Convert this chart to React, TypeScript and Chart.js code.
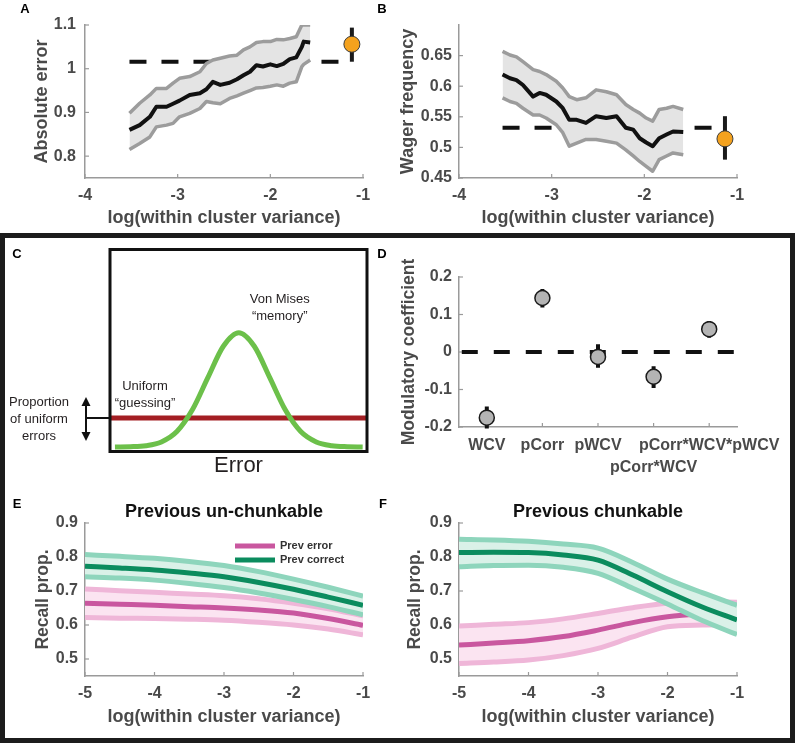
import React, { useEffect, useRef } from 'react';
import { Chart, registerables } from 'chart.js';

Chart.register(...registerables);

const FONT = "'Liberation Sans', Arial, Helvetica, sans-serif";
const TICK_COLOR = '#4a4a4a';
const AXIS_COLOR = '#9a9a9a';
const BAND_EDGE = '#9c9c9c';
const BAND_FILL = '#e4e4e4';
const ORANGE = '#f4a21e';
const PINK_MID = '#c9579f';
const PINK_EDGE = '#efb6d8';
const PINK_FILL = '#fbe4f1';
const GREEN_MID = '#0b8c5e';
const GREEN_EDGE = '#8ed5bc';
const GREEN_FILL = '#daf1e8';

// ---------- shared text ----------
const X_TITLE = 'log(within cluster variance)';
const PANEL_LABELS = ['A', 'B', 'C', 'D', 'E', 'F'];

// ---------- Panel A ----------
const A_Y_TITLE = 'Absolute error';
const A_X_TICKS = [-4, -3, -2, -1];
const A_Y_TICKS = [0.8, 0.9, 1, 1.1];
const A_X = [-3.52, -3.41, -3.30, -3.23, -3.12, -3.05, -2.98, -2.87, -2.76, -2.69, -2.62, -2.54, -2.44, -2.36, -2.29, -2.22, -2.15, -2.08, -2.00, -1.93, -1.86, -1.79, -1.72, -1.66, -1.64, -1.57];
const A_MEAN = [0.860, 0.871, 0.890, 0.913, 0.913, 0.920, 0.927, 0.940, 0.944, 0.953, 0.970, 0.963, 0.968, 0.976, 0.985, 0.993, 1.008, 1.005, 1.010, 1.006, 1.011, 1.022, 1.026, 1.050, 1.062, 1.060];
const A_UPPER = [0.898, 0.921, 0.940, 0.955, 0.955, 0.967, 0.978, 0.982, 0.993, 1.012, 1.020, 1.024, 1.029, 1.031, 1.043, 1.050, 1.060, 1.062, 1.062, 1.067, 1.066, 1.069, 1.073, 1.100, 1.100, 1.100];
const A_LOWER = [0.815, 0.829, 0.844, 0.867, 0.871, 0.875, 0.890, 0.898, 0.909, 0.925, 0.922, 0.920, 0.932, 0.938, 0.944, 0.950, 0.956, 0.957, 0.960, 0.963, 0.960, 0.967, 0.970, 1.005, 1.010, 1.020];
const A_BASE_X = [-3.52, -1.25];
const A_BASE_Y = 1.016;
const A_SINGLE_X = -1.12;
const A_SINGLE_Y = 1.056;
const A_SINGLE_ERR = [1.016, 1.094];

// ---------- Panel B ----------
const B_Y_TITLE = 'Wager frequency';
const B_X_TICKS = [-4, -3, -2, -1];
const B_Y_TICKS = [0.45, 0.5, 0.55, 0.6, 0.65];
const B_X = [-3.53, -3.45, -3.38, -3.31, -3.20, -3.13, -3.06, -2.95, -2.88, -2.81, -2.73, -2.63, -2.52, -2.41, -2.30, -2.20, -2.12, -2.05, -1.98, -1.91, -1.84, -1.76, -1.69, -1.58];
const B_MEAN = [0.619, 0.613, 0.610, 0.602, 0.583, 0.589, 0.586, 0.575, 0.564, 0.545, 0.545, 0.540, 0.551, 0.548, 0.551, 0.532, 0.529, 0.515, 0.508, 0.502, 0.515, 0.521, 0.526, 0.525];
const B_UPPER = [0.657, 0.651, 0.648, 0.640, 0.627, 0.624, 0.619, 0.608, 0.597, 0.583, 0.578, 0.581, 0.594, 0.591, 0.586, 0.570, 0.562, 0.556, 0.548, 0.543, 0.562, 0.564, 0.567, 0.562];
const B_LOWER = [0.581, 0.575, 0.572, 0.564, 0.553, 0.553, 0.548, 0.537, 0.524, 0.502, 0.507, 0.513, 0.513, 0.510, 0.507, 0.496, 0.486, 0.477, 0.469, 0.461, 0.480, 0.486, 0.491, 0.488];
const B_BASE_X = [-3.53, -1.24];
const B_BASE_Y = 0.532;
const B_SINGLE_X = -1.13;
const B_SINGLE_Y = 0.514;
const B_SINGLE_ERR = [0.480, 0.551];

// ---------- Panel C ----------
const C_VM_X = [-4, -3.5, -3, -2.5, -2, -1.5, -1, -0.5, 0, 0.5, 1, 1.5, 2, 2.5, 3, 3.5, 4];
const C_VM_Y = [0.000, 0.002, 0.011, 0.044, 0.135, 0.325, 0.607, 0.882, 1.000, 0.882, 0.607, 0.325, 0.135, 0.044, 0.011, 0.002, 0.000];
const C_UNIFORM_LEVEL = 0.254;
const C_TEXT_VM = ['Von Mises', '\u201Cmemory\u201D'];
const C_TEXT_UNI = ['Uniform', '\u201Cguessing\u201D'];
const C_TEXT_PROP = ['Proportion', 'of uniform', 'errors'];
const C_X_LABEL = 'Error';

// ---------- Panel D ----------
const D_Y_TITLE = 'Modulatory coefficient';
const D_LABELS = ['WCV', 'pCorr', 'pWCV', 'pCorr*WCV', 'pCorr*WCV*pWCV'];
const D_POS = [1, 2, 3, 4, 5];
const D_COEF = [-0.175, 0.144, -0.013, -0.066, 0.061];
const D_LO = [-0.204, 0.119, -0.042, -0.096, 0.038];
const D_HI = [-0.145, 0.168, 0.021, -0.038, 0.083];
const D_Y_TICKS = [-0.2, -0.1, 0, 0.1, 0.2];

// ---------- Panels E / F ----------
const EF_Y_TITLE = 'Recall prop.';
const EF_X_TICKS = [-5, -4, -3, -2, -1];
const EF_Y_TICKS = [0.5, 0.6, 0.7, 0.8, 0.9];
const LEGEND_LABELS = ['Prev error', 'Prev correct'];
const E_TITLE = 'Previous un-chunkable';
const F_TITLE = 'Previous chunkable';
const EF_X = [-5, -4.5, -4, -3.5, -3, -2.5, -2, -1.5, -1];
const E_CORRECT_MID = [0.773, 0.768, 0.762, 0.753, 0.742, 0.725, 0.705, 0.682, 0.658];
const E_CORRECT_UP = [0.807, 0.802, 0.796, 0.787, 0.775, 0.757, 0.735, 0.711, 0.685];
const E_CORRECT_LO = [0.742, 0.738, 0.732, 0.722, 0.710, 0.694, 0.675, 0.654, 0.630];
const E_ERROR_MID = [0.664, 0.661, 0.658, 0.654, 0.650, 0.644, 0.635, 0.619, 0.599];
const E_ERROR_UP = [0.706, 0.701, 0.696, 0.691, 0.686, 0.677, 0.664, 0.648, 0.627];
const E_ERROR_LO = [0.622, 0.620, 0.619, 0.617, 0.614, 0.608, 0.600, 0.588, 0.571];
const F_CORRECT_MID = [0.813, 0.814, 0.813, 0.806, 0.791, 0.747, 0.698, 0.653, 0.615];
const F_CORRECT_UP = [0.852, 0.850, 0.846, 0.838, 0.826, 0.784, 0.735, 0.695, 0.658];
const F_CORRECT_LO = [0.771, 0.775, 0.776, 0.770, 0.752, 0.708, 0.662, 0.613, 0.572];
const F_ERROR_MID = [0.541, 0.547, 0.554, 0.566, 0.585, 0.607, 0.624, 0.633, 0.638];
const F_ERROR_UP = [0.597, 0.602, 0.607, 0.618, 0.634, 0.651, 0.664, 0.668, 0.667];
const F_ERROR_LO = [0.487, 0.491, 0.497, 0.510, 0.531, 0.565, 0.595, 0.600, 0.601];

// ---------- helpers ----------
const pts = (xs: number[], ys: number[]) => xs.map((x, i) => ({ x, y: ys[i] }));

const lineDS = (data: any[], color: string, width: number, extra: any = {}) => ({
  data,
  borderColor: color,
  borderWidth: width,
  pointRadius: 0,
  pointHoverRadius: 0,
  fill: false,
  tension: 0,
  ...extra,
});

const inTicksPlugin = {
  id: 'inTicks',
  beforeDatasetsDraw(chart: any) {
    const { ctx, chartArea: a, scales } = chart;
    const len = 4;
    ctx.save();
    ctx.strokeStyle = AXIS_COLOR;
    ctx.lineWidth = 1.2;
    const sx = scales.x;
    const sy = scales.y;
    if (sx && sx.options.display) {
      sx.ticks.forEach((t: any) => {
        const p = sx.getPixelForValue(t.value);
        ctx.beginPath();
        ctx.moveTo(p, a.bottom);
        ctx.lineTo(p, a.bottom - len);
        ctx.stroke();
      });
    }
    if (sy && sy.options.display) {
      sy.ticks.forEach((t: any) => {
        const p = sy.getPixelForValue(t.value);
        ctx.beginPath();
        ctx.moveTo(a.left, p);
        ctx.lineTo(a.left + len, p);
        ctx.stroke();
      });
    }
    ctx.restore();
  },
};

const lineLegendPlugin = {
  id: 'lineLegend',
  afterDatasetsDraw(chart: any, _args: any, opts: any) {
    if (!opts || !opts.items) return;
    const { ctx, chartArea: a } = chart;
    ctx.save();
    opts.items.forEach((it: any, i: number) => {
      const y = a.top + opts.dy + i * opts.gap;
      const x0 = a.left + opts.dx;
      ctx.strokeStyle = it.color;
      ctx.lineWidth = 5;
      ctx.beginPath();
      ctx.moveTo(x0, y);
      ctx.lineTo(x0 + 40, y);
      ctx.stroke();
      ctx.fillStyle = '#333';
      ctx.font = `bold 11px ${FONT}`;
      ctx.textAlign = 'left';
      ctx.textBaseline = 'middle';
      ctx.fillText(it.label, x0 + 45, y);
    });
    ctx.restore();
  },
};

const panelCPlugin = {
  id: 'panelC',
  afterDraw(chart: any) {
    const { ctx, chartArea: a, scales } = chart;
    const sx = scales.x;
    const sy = scales.y;
    ctx.save();
    ctx.strokeStyle = '#111';
    ctx.lineWidth = 3;
    ctx.strokeRect(a.left, a.top, a.right - a.left, a.bottom - a.top);

    ctx.fillStyle = '#231f20';
    ctx.font = `13px ${FONT}`;
    ctx.textAlign = 'center';
    ctx.textBaseline = 'middle';
    const vmX = sx.getPixelForValue(1.32);
    const vmY = sy.getPixelForValue(1.29);
    C_TEXT_VM.forEach((t, i) => ctx.fillText(t, vmX, vmY + i * 16.5));
    const uX = sx.getPixelForValue(-3.03);
    const uY = sy.getPixelForValue(0.53);
    C_TEXT_UNI.forEach((t, i) => ctx.fillText(t, uX, uY + i * 16.5));

    const redY = sy.getPixelForValue(C_UNIFORM_LEVEL);
    const px = a.left - 71;
    C_TEXT_PROP.forEach((t, i) => ctx.fillText(t, px, redY - 16 + i * 17));

    // double arrow + connector
    const ax = a.left - 24;
    const top = redY - 21;
    const bot = redY + 23;
    ctx.strokeStyle = '#111';
    ctx.fillStyle = '#111';
    ctx.lineWidth = 2;
    ctx.beginPath();
    ctx.moveTo(ax, top + 6);
    ctx.lineTo(ax, bot - 6);
    ctx.moveTo(ax, redY);
    ctx.lineTo(a.left, redY);
    ctx.stroke();
    ctx.beginPath();
    ctx.moveTo(ax, top);
    ctx.lineTo(ax - 4.5, top + 9);
    ctx.lineTo(ax + 4.5, top + 9);
    ctx.closePath();
    ctx.fill();
    ctx.beginPath();
    ctx.moveTo(ax, bot);
    ctx.lineTo(ax - 4.5, bot - 9);
    ctx.lineTo(ax + 4.5, bot - 9);
    ctx.closePath();
    ctx.fill();

    ctx.fillStyle = '#231f20';
    ctx.font = `22px ${FONT}`;
    ctx.textBaseline = 'alphabetic';
    ctx.fillText(C_X_LABEL, (a.left + a.right) / 2, a.bottom + 20.5);
    ctx.restore();
  },
};

interface Frame {
  cx: number; cy: number; cw: number; ch: number;
  left: number; right: number; top: number; bottom: number;
  yTitleX: number; xTitleY?: number; xAxisH?: number; titleH?: number;
}

interface AxisSpec {
  min: number; max: number; ticks: number[]; title?: string;
  fmt?: (v: number) => any; titleSize?: number; pad?: number; lineHeight?: number;
}

function axesOptions(f: Frame, xs: AxisSpec, ys: AxisSpec, plugins: any = {}) {
  const yTitleSize = ys.titleSize ?? 18;
  const yLH = yTitleSize * 1.2;
  const scaleLeft = f.yTitleX - yLH / 2;
  const yW = f.left - scaleLeft;
  const xLH = 18 * 1.2;
  const xH = f.xTitleY !== undefined ? f.xTitleY + xLH / 2 - f.bottom : (f.xAxisH ?? 52);
  const titleH = f.titleH ?? 0;
  const tickFont = (lh: number) => ({ family: FONT, size: 16, weight: 'bold', lineHeight: lh });
  return {
    responsive: false,
    animation: false,
    devicePixelRatio: 1,
    events: [],
    layout: {
      padding: {
        left: scaleLeft - f.cx,
        right: f.cx + f.cw - f.right,
        top: f.top - f.cy - titleH,
        bottom: f.cy + f.ch - f.bottom - xH,
      },
    },
    scales: {
      x: {
        type: 'linear',
        min: xs.min,
        max: xs.max,
        afterBuildTicks: (sc: any) => { sc.ticks = xs.ticks.map((v) => ({ value: v })); },
        afterFit: (sc: any) => { sc.height = xH; },
        grid: { display: false, drawTicks: false, tickLength: 0 },
        border: { display: true, color: AXIS_COLOR, width: 1.5 },
        ticks: {
          autoSkip: false, maxRotation: 0, minRotation: 0,
          padding: xs.pad ?? 8, color: TICK_COLOR, font: tickFont(xs.lineHeight ?? 1.2),
          callback: (v: any) => (xs.fmt ? xs.fmt(v) : String(v)),
        },
        title: {
          display: !!xs.title, text: xs.title || '', color: TICK_COLOR, padding: 0,
          font: { family: FONT, size: 18, weight: 'bold', lineHeight: 1.2 },
        },
      },
      y: {
        type: 'linear',
        min: ys.min,
        max: ys.max,
        afterBuildTicks: (sc: any) => { sc.ticks = ys.ticks.map((v) => ({ value: v })); },
        afterFit: (sc: any) => { sc.width = yW; },
        grid: { display: false, drawTicks: false, tickLength: 0 },
        border: { display: true, color: AXIS_COLOR, width: 1.5 },
        ticks: {
          autoSkip: false, padding: ys.pad ?? 7, color: TICK_COLOR, font: tickFont(1.2),
          callback: (v: any) => String(v),
        },
        title: {
          display: !!ys.title, text: ys.title || '', color: TICK_COLOR, padding: 0,
          font: { family: FONT, size: yTitleSize, weight: 'bold', lineHeight: 1.2 },
        },
      },
    },
    plugins: { legend: { display: false }, tooltip: { enabled: false }, ...plugins },
  };
}

// ---------- chart builders ----------
function trendChart(
  f: Frame, yTitle: string, xTicks: number[], yTicks: number[], yMin: number, yMax: number,
  xsArr: number[], mean: number[], up: number[], lo: number[],
  baseX: number[], baseY: number, sX: number, sY: number, sErr: number[], yPad: number,
) {
  return {
    type: 'line',
    data: {
      datasets: [
        {
          data: [{ x: sX, y: sY }], showLine: false, pointRadius: 8, pointHoverRadius: 8,
          pointBackgroundColor: ORANGE, pointBorderColor: '#3a3a3a', pointBorderWidth: 1, clip: false,
        },
        lineDS([{ x: sX, y: sErr[0] }, { x: sX, y: sErr[1] }], '#1a1a1a', 4, { clip: false }),
        lineDS(pts(xsArr, mean), '#111', 4, { borderJoinStyle: 'round' }),
        lineDS(pts(xsArr, up), BAND_EDGE, 3.5, { borderJoinStyle: 'round' }),
        lineDS(pts(xsArr, lo), BAND_EDGE, 3.5, { borderJoinStyle: 'round' }),
        lineDS(pts(xsArr, up), 'rgba(0,0,0,0)', 0, { fill: 4, backgroundColor: BAND_FILL }),
        lineDS(baseX.map((x) => ({ x, y: baseY })), '#111', 4, { borderDash: [17, 15] }),
      ],
    },
    options: axesOptions(
      f,
      { min: -4, max: -1, ticks: xTicks, title: X_TITLE },
      { min: yMin, max: yMax, ticks: yTicks, title: yTitle, pad: yPad },
      { inTicks: {} },
    ),
    plugins: [inTicksPlugin],
  };
}

const makeA = () => trendChart(
  { cx: 0, cy: 0, cw: 398, ch: 232, left: 85, right: 363, top: 25, bottom: 178, yTitleX: 42, xTitleY: 218 },
  A_Y_TITLE, A_X_TICKS, A_Y_TICKS, 0.75, 1.1,
  A_X, A_MEAN, A_UPPER, A_LOWER, A_BASE_X, A_BASE_Y, A_SINGLE_X, A_SINGLE_Y, A_SINGLE_ERR, 9,
);

const makeB = () => trendChart(
  { cx: 396, cy: 0, cw: 404, ch: 232, left: 459, right: 737, top: 25, bottom: 178, yTitleX: 408, xTitleY: 218 },
  B_Y_TITLE, B_X_TICKS, B_Y_TICKS, 0.45, 0.70,
  B_X, B_MEAN, B_UPPER, B_LOWER, B_BASE_X, B_BASE_Y, B_SINGLE_X, B_SINGLE_Y, B_SINGLE_ERR, 7,
);

const makeC = () => ({
  type: 'line',
  data: {
    datasets: [
      lineDS(pts(C_VM_X, C_VM_Y), '#6cc04a', 5, { cubicInterpolationMode: 'monotone' }),
      lineDS([{ x: -4.16, y: C_UNIFORM_LEVEL }, { x: 4.14, y: C_UNIFORM_LEVEL }], '#a31e23', 5),
    ],
  },
  options: {
    responsive: false,
    animation: false,
    devicePixelRatio: 1,
    events: [],
    layout: { padding: { left: 110, right: 31, top: 11.5, bottom: 28.5 } },
    scales: {
      x: { type: 'linear', display: false, min: -4.16, max: 4.14 },
      y: { type: 'linear', display: false, min: -0.04, max: 1.73 },
    },
    plugins: { legend: { display: false }, tooltip: { enabled: false } },
  },
  plugins: [panelCPlugin],
});

const makeD = () => {
  const bars: any[] = [];
  D_POS.forEach((p, i) => {
    bars.push({ x: p, y: D_LO[i] });
    bars.push({ x: p, y: D_HI[i] });
    bars.push({ x: p, y: null });
  });
  return {
    type: 'line',
    data: {
      datasets: [
        {
          data: pts(D_POS, D_COEF), showLine: false, pointRadius: 7.5, pointHoverRadius: 7.5,
          pointBackgroundColor: '#b4b4b4', pointBorderColor: '#1a1a1a', pointBorderWidth: 1.5, clip: false,
        },
        lineDS(bars, '#111', 4, { spanGaps: false, clip: false }),
        lineDS([{ x: 0.55, y: 0 }, { x: 5.46, y: 0 }], '#111', 4, { borderDash: [16, 16] }),
      ],
    },
    options: axesOptions(
      { cx: 396, cy: 240, cw: 404, ch: 240, left: 459, right: 737, top: 277, bottom: 427, yTitleX: 409, xAxisH: 52 },
      {
        min: 0.5, max: 5.5, ticks: D_POS, pad: 7, lineHeight: 1.4,
        fmt: (v: number) => {
          const i = D_POS.indexOf(v);
          const lab = D_LABELS[i] ?? '';
          return i === 3 ? ['', lab] : lab;
        },
      },
      { min: -0.2, max: 0.2, ticks: D_Y_TICKS, title: D_Y_TITLE, titleSize: 17.5 },
      { inTicks: {} },
    ),
    plugins: [inTicksPlugin],
  };
};

function recallChart(
  f: Frame, title: string, withLegend: boolean,
  cMid: number[], cUp: number[], cLo: number[], eMid: number[], eUp: number[], eLo: number[],
) {
  const smooth = { cubicInterpolationMode: 'monotone' };
  const opts: any = axesOptions(
    f,
    { min: -5, max: -1, ticks: EF_X_TICKS, title: X_TITLE },
    { min: 0.45, max: 0.9, ticks: EF_Y_TICKS, title: EF_Y_TITLE, titleSize: 17.5 },
    {
      inTicks: {},
      title: {
        display: true, text: title, fullSize: false, color: '#111', padding: 0,
        font: { family: FONT, size: 18, weight: 'bold', lineHeight: 1.2 },
      },
      lineLegend: withLegend
        ? { dx: 150, dy: 23, gap: 14, items: [{ label: LEGEND_LABELS[0], color: PINK_MID }, { label: LEGEND_LABELS[1], color: GREEN_MID }] }
        : { items: null },
    },
  );
  return {
    type: 'line',
    data: {
      datasets: [
        lineDS(pts(EF_X, cMid), GREEN_MID, 5, smooth),
        lineDS(pts(EF_X, cUp), GREEN_EDGE, 5, smooth),
        lineDS(pts(EF_X, cLo), GREEN_EDGE, 5, smooth),
        lineDS(pts(EF_X, cUp), 'rgba(0,0,0,0)', 0, { ...smooth, fill: 2, backgroundColor: GREEN_FILL }),
        lineDS(pts(EF_X, eMid), PINK_MID, 5, smooth),
        lineDS(pts(EF_X, eUp), PINK_EDGE, 5, smooth),
        lineDS(pts(EF_X, eLo), PINK_EDGE, 5, smooth),
        lineDS(pts(EF_X, eUp), 'rgba(0,0,0,0)', 0, { ...smooth, fill: 6, backgroundColor: PINK_FILL }),
      ],
    },
    options: opts,
    plugins: [inTicksPlugin, lineLegendPlugin],
  };
}

const makeE = () => recallChart(
  { cx: 0, cy: 480, cw: 398, ch: 264, left: 85, right: 363, top: 523, bottom: 676, yTitleX: 43, xTitleY: 717, titleH: 21.6 },
  E_TITLE, true, E_CORRECT_MID, E_CORRECT_UP, E_CORRECT_LO, E_ERROR_MID, E_ERROR_UP, E_ERROR_LO,
);

const makeF = () => recallChart(
  { cx: 396, cy: 480, cw: 404, ch: 264, left: 459, right: 737, top: 523, bottom: 676, yTitleX: 415, xTitleY: 717, titleH: 21.6 },
  F_TITLE, false, F_CORRECT_MID, F_CORRECT_UP, F_CORRECT_LO, F_ERROR_MID, F_ERROR_UP, F_ERROR_LO,
);

function ChartBox({ x, y, w, h, make }: { x: number; y: number; w: number; h: number; make: () => any }) {
  const ref = useRef<HTMLCanvasElement>(null);
  useEffect(() => {
    const chart = new Chart(ref.current as HTMLCanvasElement, make());
    return () => chart.destroy();
  }, []);
  return (
    <canvas
      ref={ref}
      width={w}
      height={h}
      style={{ position: 'absolute', left: x, top: y, width: w, height: h }}
    />
  );
}

function PanelLabel({ text, x, y }: { text: string; x: number; y: number }) {
  return (
    <div
      style={{
        position: 'absolute', left: x, top: y, transform: 'translate(-50%, -50%)',
        font: `bold 13px ${FONT}`, color: '#000', lineHeight: 1,
      }}
    >
      {text}
    </div>
  );
}

export default function App() {
  return (
    <div style={{ position: 'absolute', left: 0, top: 0, width: 800, height: 744, background: '#fff', overflow: 'hidden' }}>
      <div
        style={{
          position: 'absolute', left: 0, top: 233, width: 795, height: 510,
          border: '5px solid #1c1c1c', boxSizing: 'border-box',
        }}
      />
      <ChartBox x={0} y={0} w={398} h={232} make={makeA} />
      <ChartBox x={396} y={0} w={404} h={232} make={makeB} />
      <ChartBox x={0} y={238} w={398} h={242} make={makeC} />
      <ChartBox x={396} y={240} w={404} h={240} make={makeD} />
      <ChartBox x={0} y={480} w={398} h={264} make={makeE} />
      <ChartBox x={396} y={480} w={404} h={264} make={makeF} />
      <PanelLabel text={PANEL_LABELS[0]} x={25} y={8} />
      <PanelLabel text={PANEL_LABELS[1]} x={382} y={8} />
      <PanelLabel text={PANEL_LABELS[2]} x={17} y={253} />
      <PanelLabel text={PANEL_LABELS[3]} x={382} y={253} />
      <PanelLabel text={PANEL_LABELS[4]} x={17} y={503} />
      <PanelLabel text={PANEL_LABELS[5]} x={383} y={503} />
    </div>
  );
}
